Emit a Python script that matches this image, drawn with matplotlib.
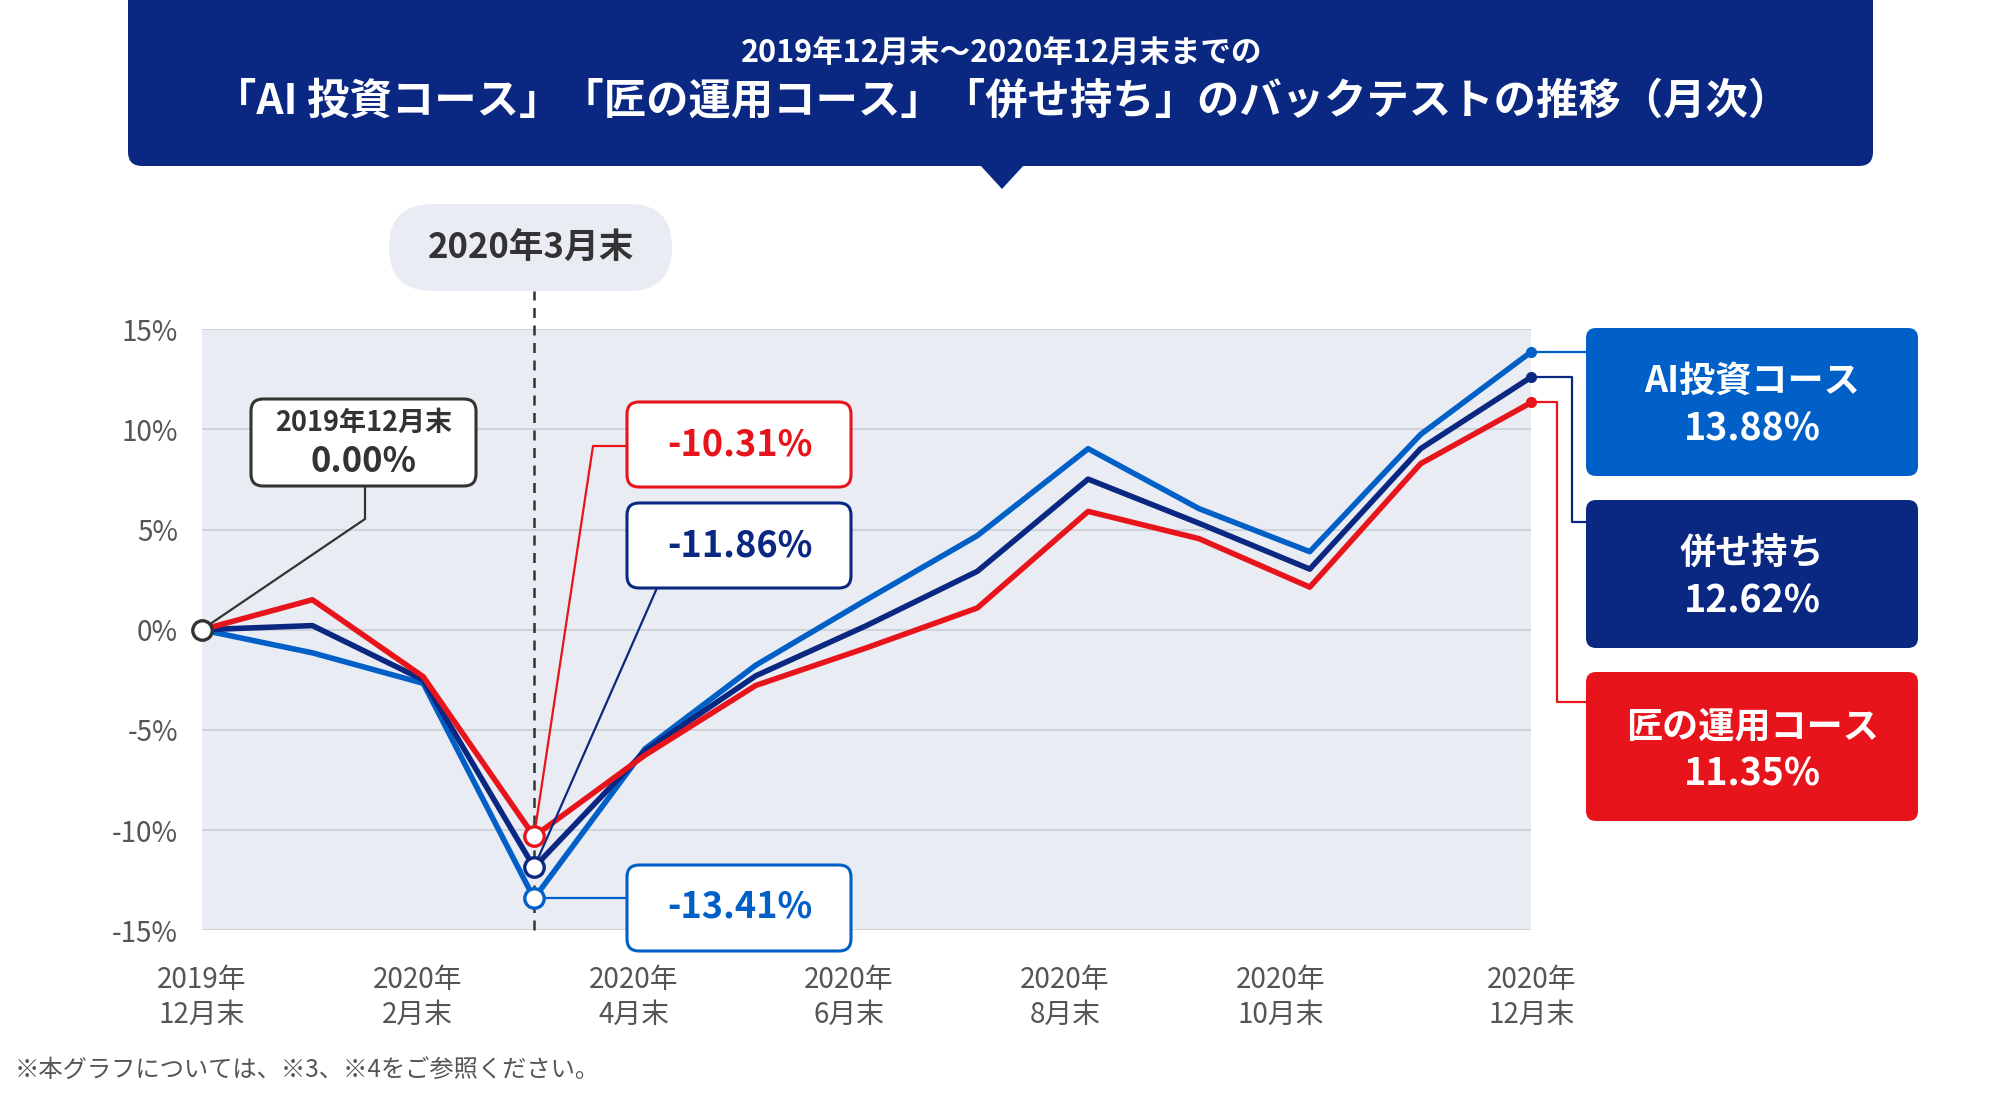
import matplotlib
matplotlib.use('Agg')
import matplotlib.pyplot as plt
from matplotlib.patches import FancyBboxPatch, Polygon
from matplotlib.transforms import Affine2D

plt.rcParams['font.family'] = ['Noto Sans CJK JP', 'DejaVu Sans']

# data (monthly backtest, %)
months = list(range(13))
ai_course = [0, -1.15, -2.67, -13.41, -5.95, -1.77, 1.5, 4.70, 9.04, 6.05, 3.90, 9.75, 13.88]
mix_course = [0, 0.21, -2.50, -11.86, -6.05, -2.30, 0.21, 2.92, 7.52, 5.32, 3.03, 9.04, 12.62]
takumi_course = [0, 1.50, -2.34, -10.31, -6.26, -2.78, -0.90, 1.09, 5.91, 4.55, 2.13, 8.29, 11.35]
x_labels = ['2019年\n12月末', '2020年\n2月末', '2020年\n4月末', '2020年\n6月末',
            '2020年\n8月末', '2020年\n10月末', '2020年\n12月末']
y_ticks = [-15, -10, -5, 0, 5, 10, 15]
names = ['AI投資コース', '併せ持ち', '匠の運用コース']

BLUE = '#0060c8'
NAVY = '#0a2882'
RED = '#e8141b'
DARK = '#333333'
GRAY_BG = '#e9ecf2'

W, H = 2001, 1103
fig = plt.figure(figsize=(W / 100, H / 100), dpi=100)
# pixel coords, origin top-left
T = Affine2D().scale(1, -1).translate(0, H)

L, R, TOP, BOT = 201.6, 1531.4, 329.3, 930.3
ax = fig.add_axes([L / W, 1 - BOT / H, (R - L) / W, (BOT - TOP) / H])
ax.set_facecolor(GRAY_BG)
ax.set_xlim(0, 12)
ax.set_ylim(-15, 15)
for s in ax.spines.values():
    s.set_visible(False)
for v in y_ticks:
    ax.axhline(v, color='#c9cdd5', lw=1.2, zorder=1)
ax.set_yticks(y_ticks)
ax.set_yticklabels([f'{v}%' for v in y_ticks])
tick_pos = [0, 1.95, 3.9, 5.84, 7.79, 9.74, 12]
ax.set_xticks(tick_pos)
ax.set_xticklabels(x_labels, linespacing=1.2)
ax.tick_params(length=0, labelsize=20, colors='#555555')
ax.tick_params(axis='y', pad=17)
ax.tick_params(axis='x', pad=25)

# march dashed line
ax.axvline(3, ymin=0, ymax=(BOT - 291) / (BOT - TOP), color=DARK, lw=1.8,
           dashes=(4, 3), clip_on=False, zorder=2)

ax.plot(months, ai_course, color=BLUE, lw=4, zorder=3)
ax.plot(months, mix_course, color=NAVY, lw=4, zorder=3)
ax.plot(months, takumi_course, color=RED, lw=4, zorder=3)

# markers
ax.plot(0, 0, 'o', ms=14, mfc='white', mec=DARK, mew=2.4, zorder=7, clip_on=False)
for ser, c in [(takumi_course, RED), (mix_course, NAVY), (ai_course, BLUE)]:
    ax.plot(3, ser[3], 'o', ms=14, mfc='white', mec=c, mew=2.4, zorder=7)
    ax.plot(12, ser[12], 'o', ms=7, color=c, zorder=7, clip_on=False)


def to_px(x, y):
    d = ax.transData.transform((x, y))
    return d[0], H - d[1]


def box(x0, y0, x1, y1, fc, ec=None, r=12, lw=2.2, z=5):
    p = FancyBboxPatch((x0, y0), x1 - x0, y1 - y0,
                       boxstyle=f'round,pad=0,rounding_size={r}',
                       fc=fc, ec=ec if ec else fc, lw=lw, transform=T,
                       clip_on=False, zorder=z)
    ax.add_patch(p)


def conn(pts, c, lw=1.6):
    xs = [p[0] for p in pts]
    ys = [p[1] for p in pts]
    ax.plot(xs, ys, color=c, lw=lw, transform=T, clip_on=False, zorder=4)


def txt(x, y, s, c, size, weight='bold'):
    ax.text(x, y, s, color=c, fontsize=size, fontweight=weight, ha='center',
            va='center', transform=T, clip_on=False, zorder=8)


# pill for 2020年3月末
box(389, 204, 672, 291, GRAY_BG, r=43, lw=0)
txt(531, 248, '2020年3月末', DARK, 25)

# start annotation
box(251, 399, 476, 486, 'white', DARK, r=12)
txt(364, 423, '2019年12月末', DARK, 19.5)
txt(364, 461, '0.00%', DARK, 25)
sx, sy = to_px(0, 0)
conn([(365, 486), (365, 519), (sx, sy)], DARK)

# march annotations
rx, ry = to_px(3, takumi_course[3])
nx, ny = to_px(3, mix_course[3])
bx, by = to_px(3, ai_course[3])
box(627, 402, 851, 487, 'white', RED)
txt(740, 445, f'{takumi_course[3]:.2f}%', RED, 26)
conn([(627, 446), (593, 446), (rx, ry)], RED)
box(627, 503, 851, 588, 'white', NAVY)
txt(740, 546, f'{mix_course[3]:.2f}%', NAVY, 26)
conn([(657, 588), (nx, ny)], NAVY)
box(627, 865, 851, 951, 'white', BLUE)
txt(740, 907, f'{ai_course[3]:.2f}%', BLUE, 26)
conn([(627, by), (bx, by)], BLUE)

# right labels
ex, ey_ai = to_px(12, ai_course[12])
_, ey_mix = to_px(12, mix_course[12])
_, ey_tk = to_px(12, takumi_course[12])
box(1586, 328, 1918, 476, BLUE, r=10, lw=0)
txt(1752, 381, names[0], 'white', 26)
txt(1752, 429, f'{ai_course[12]:.2f}%', 'white', 27)
conn([(ex, ey_ai), (1586, ey_ai)], BLUE)
box(1586, 500, 1918, 648, NAVY, r=10, lw=0)
txt(1752, 553, names[1], 'white', 26)
txt(1752, 601, f'{mix_course[12]:.2f}%', 'white', 27)
conn([(ex, ey_mix), (1572, ey_mix), (1572, 522), (1586, 522)], NAVY)
box(1586, 672, 1918, 821, RED, r=10, lw=0)
txt(1752, 728, names[2], 'white', 26)
txt(1752, 774, f'{takumi_course[12]:.2f}%', 'white', 27)
conn([(ex, ey_tk), (1557, ey_tk), (1557, 702), (1586, 702)], RED)

# title banner
banner = FancyBboxPatch((128, -30), 1745, 196, boxstyle='round,pad=0,rounding_size=14',
                        fc=NAVY, ec='none', transform=T)
fig.add_artist(banner)
fig.add_artist(Polygon([(980, 165), (1024, 165), (1002, 189)], closed=True,
                       fc=NAVY, ec='none', transform=T))
fig.text(1002, 53, '2019年12月末～2020年12月末までの', color='white', fontsize=22,
         fontweight='bold', ha='center', va='center', transform=T)
fig.text(1002, 102, '「AI 投資コース」「匠の運用コース」「併せ持ち」のバックテストの推移（月次）',
         color='white', fontsize=30.5, fontweight='bold', ha='center', va='center', transform=T)

fig.text(15, 1070, '※本グラフについては、※3、※4をご参照ください。', color='#555555',
         fontsize=17.5, ha='left', va='center', transform=T)

fig.savefig('out.png', dpi=100)
